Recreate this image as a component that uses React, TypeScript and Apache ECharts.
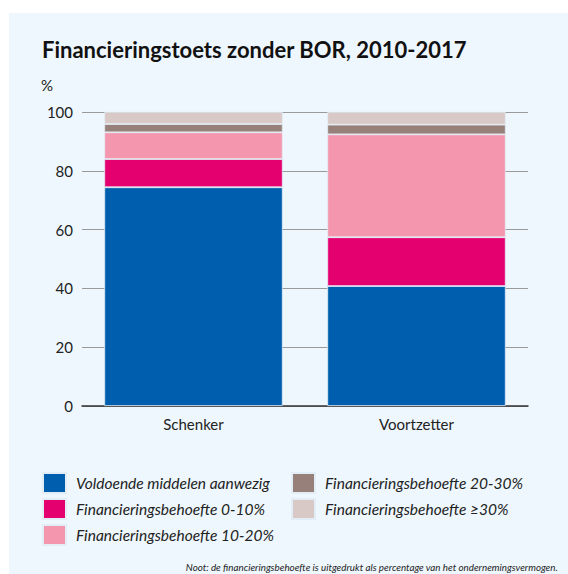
import React, { useEffect, useRef } from "react";
import * as echarts from "echarts";

const categories = ["Schenker", "Voortzetter"];
const seriesNames = [
  "Voldoende middelen aanwezig",
  "Financieringsbehoefte 0-10%",
  "Financieringsbehoefte 10-20%",
  "Financieringsbehoefte 20-30%",
  "Financieringsbehoefte ≥30%",
];
const voldoende = [74.4, 40.8];
const behoefte0_10 = [9.6, 16.6];
const behoefte10_20 = [9.1, 35.0];
const behoefte20_30 = [2.8, 3.3];
const behoefte30plus = [4.1, 4.3];
const yTicks = [0, 20, 40, 60, 80, 100];
const colors = ["#005EAE", "#E4006E", "#F496AE", "#968079", "#D8C8C6"];

const title = "Financieringstoets zonder BOR, 2010-2017";
const note = "Noot: de financieringsbehoefte is uitgedrukt als percentage van het ondernemingsvermogen.";

export default function App() {
  const ref = useRef<HTMLDivElement>(null);
  useEffect(() => {
    if (!ref.current) return;
    const chart = echarts.init(ref.current, null, { renderer: "svg" });
    const values = [voldoende, behoefte0_10, behoefte10_20, behoefte20_30, behoefte30plus];
    const font = "Lato, 'Noto Sans', sans-serif";
    const legendText = {
      fontSize: 15.5,
      fontStyle: "italic",
      color: "#222",
      fontFamily: font,
      padding: [0, 0, 0, 5],
    };
    chart.setOption({
      animation: false,
      backgroundColor: "#ffffff",
      textStyle: { fontFamily: font },
      graphic: [
        {
          type: "rect",
          z: -10,
          shape: { x: 9, y: 13, width: 568, height: 574 },
          style: { fill: "#EEF7FD" },
          silent: true,
        },
        {
          type: "text",
          left: 42,
          top: 38,
          style: { text: title, fontSize: 22, fontWeight: "bold", fill: "#111", fontFamily: font },
        },
        {
          type: "text",
          left: 41,
          top: 77,
          style: { text: "%", fontSize: 15, fill: "#222", fontFamily: font },
        },
        {
          type: "text",
          right: 10,
          top: 562,
          style: { text: note, fontSize: 9.8, fontStyle: "italic", fill: "#222", fontFamily: font },
        },
      ],
      grid: { left: 82, right: 40, top: 112, bottom: 168 },
      xAxis: {
        type: "category",
        data: categories,
        axisLine: { lineStyle: { color: "#333", width: 1.5 } },
        axisTick: { alignWithLabel: true, length: 6, lineStyle: { color: "#888" } },
        axisLabel: { fontSize: 15, color: "#222", margin: 10, fontFamily: font },
      },
      yAxis: {
        type: "value",
        min: 0,
        max: 100,
        interval: 20,
        axisLine: { show: false },
        axisTick: { show: false },
        axisLabel: {
          fontSize: 15,
          color: "#222",
          margin: 9,
          fontFamily: font,
          formatter: (v: number) => (yTicks.includes(v) ? String(v) : ""),
        },
        splitLine: { lineStyle: { color: "#9a9a9a", width: 1 } },
      },
      legend: [
        {
          orient: "vertical",
          left: 42,
          top: 472,
          padding: 0,
          itemWidth: 23,
          itemHeight: 20,
          itemGap: 4,
          icon: "rect",
          data: seriesNames.slice(0, 3),
          textStyle: legendText,
        },
        {
          orient: "vertical",
          left: 291,
          top: 472,
          padding: 0,
          itemWidth: 23,
          itemHeight: 20,
          itemGap: 4,
          icon: "rect",
          data: seriesNames.slice(3),
          textStyle: legendText,
        },
      ],
      series: seriesNames.map((name, i) => ({
        name,
        type: "bar",
        stack: "total",
        barWidth: "80%",
        data: values[i],
        itemStyle: { color: colors[i], borderColor: "#e3edf5", borderWidth: 0.8 },
      })),
    });
    return () => chart.dispose();
  }, []);
  return (
    <div
      ref={ref}
      style={{ position: "fixed", left: 0, top: 0, width: 568, height: 574 }}
    />
  );
}
